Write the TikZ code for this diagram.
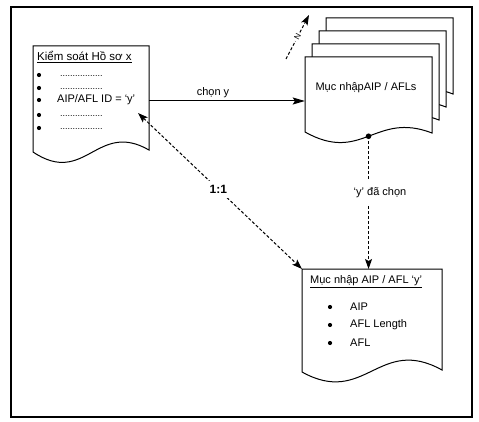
\documentclass[tikz,border=0pt]{standalone}
\usepackage{fontspec}
\setmainfont{Liberation Sans}
\usetikzlibrary{arrows.meta}
\newcommand\mydocshape[7]{%
  \draw[docline] (#1,#2) -- (#3,#2) -- (#3,#5)
    .. controls ({#1+0.55*(#3-#1)},{#5-#7}) and ({#1+0.45*(#3-#1)},{#4+#6}) .. (#1,#4) -- cycle;}
\tikzset{
  docline/.style={draw=black, line width=1pt, fill=white},
  frameline/.style={draw=black, line width=1.3pt},
  bul/.style={circle, fill=black, inner sep=0pt, minimum size=4.2pt},
  txt/.style={font=\fontsize{11}{13}\selectfont, inner sep=0pt},
  titletxt/.style={font=\fontsize{11.5}{13}\selectfont, inner sep=0pt},
  dotstxt/.style={font=\fontsize{9}{10}\selectfont, inner sep=0pt},
  ghost/.style={inner sep=0pt, draw=none},
  solidarrow/.style={line width=1pt, -{Stealth[length=12pt,width=7pt,inset=2pt]}},
  dasharrow/.style={line width=1pt, dash pattern=on 3pt off 2pt, -{Stealth[length=10pt,width=7pt,inset=2pt]}},
  dasharrows/.style={line width=1pt, dash pattern=on 3pt off 2pt, {Stealth[length=10pt,width=7pt,inset=2pt]}-{Stealth[length=10pt,width=7pt,inset=2pt]}},
  lbl/.style={fill=white, font=\fontsize{11}{13}\selectfont},
}
\begin{document}
\begin{tikzpicture}[x=1pt,y=-1pt]
\useasboundingbox (0,0) rectangle (479,422);
\fill[white] (0,0) rectangle (479,422);
% frame
\draw[frameline] (11,7) rectangle (472,417);

% ---------- left document
\mydocshape{33}{46}{149}{152}{150}{35}{30}
\node[ghost, minimum width=116pt, minimum height=110pt] (ldoc) at (91,101) {};
\node[titletxt, anchor=west] (ltitle) at (37,57) {\underline{Kiểm soát Hồ sơ x}};
\foreach \yy/\nm in {75/1,88/2,100/3,115/4,128/5}{
  \node[bul] (lb\nm) at (39,\yy) {};
}
\foreach \yy/\nm in {76.5/1,89.5/2,116.5/4,129.5/5}{
  \node[dotstxt, anchor=base west] (ld\nm) at (60,\yy) {.................};
}
\node[txt, anchor=west] (lid) at (57,100) {AIP/AFL ID = ‘y’};
\coordinate (idtip) at (138,113);

% ---------- stacked documents
\foreach \k in {3,2,1}{
  \pgfmathsetmacro\ax{305+7*\k}
  \pgfmathsetmacro\ay{57-13*\k}
  \pgfmathsetmacro\cx{432+7*\k}
  \pgfmathsetmacro\yl{132-13*\k}
  \pgfmathsetmacro\yr{133-13*\k}
  \mydocshape{\ax}{\ay}{\cx}{\yl}{\yr}{32}{22}
}
\draw[docline] (305,57) -- (432,57) -- (432,133)
  .. controls (374.9,111) and (362.2,164) .. coordinate[pos=0.5] (fdot) (305,132) -- cycle;
\node[ghost, minimum width=127pt, minimum height=88pt] (fdoc) at (368.5,101) {};
\node[txt] (ftext) at (366,88) {Mục nhậpAIP / AFLs};
\fill (fdot) circle (2.8pt);

% N marker
\coordinate (nS) at (286,59);
\coordinate (nE) at (309,15);
\draw[dasharrow] (nS) -- node[sloped, fill=white, inner sep=1.5pt, font=\fontsize{8}{9}\selectfont] (nlbl) {N} (nE);

% ---------- bottom document
\mydocshape{302}{269}{442}{372}{370}{35}{35}
\node[ghost, minimum width=140pt, minimum height=103pt, anchor=north west] (bdoc) at (302,269) {};
\node[txt, anchor=west] (btitle) at (310,282) {\underline{Mục nhập AIP / AFL ‘y’}};
\foreach \yy/\nm/\tt in {307/1/AIP,325/2/AFL Length,343/3/AFL}{
  \node[bul] (bb\nm) at (330,\yy) {};
  \node[txt, anchor=west] (bt\nm) at (350,\yy) {\tt};
}

% ---------- connectors
\draw[solidarrow] (ldoc.east) -- (fdoc.west);
\node[txt] (chon) at (213,93) {chọn y};

\draw[dasharrows] (idtip) -- node[pos=0.49, fill=white, inner sep=4pt, font=\bfseries\fontsize{12}{14}\selectfont] (oneone) {1:1} (bdoc.north west);

\draw[dasharrow] (fdot) -- (fdot |- bdoc.north);
\node[lbl, inner xsep=1pt, inner ysep=7pt] (ychon) at (380,193) {‘y’ đã chọn};
\end{tikzpicture}
\end{document}
